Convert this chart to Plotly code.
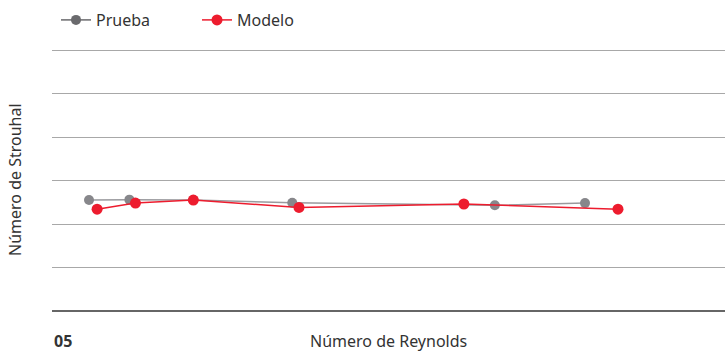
import plotly.graph_objects as go

# Reynolds (relative scale) and Strouhal values
prueba_x = [5.5, 11.5, 21.0, 35.7, 65.8, 79.2]
prueba_y = [0.255, 0.256, 0.255, 0.249, 0.243, 0.248]

modelo_x = [6.7, 12.4, 21.0, 36.7, 61.2, 84.1]
modelo_y = [0.234, 0.248, 0.255, 0.238, 0.246, 0.234]

grid_vals = [0.1, 0.2, 0.3, 0.4, 0.5, 0.6]

GRAY = "#87878b"
GRAY_LEG = "#6a6a6d"
RED = "#ed1c2e"
TXT = "#333333"
FONT = "Noto Sans"

W, H = 725, 352
L, R, T, B = 52, 0, 41, 41
plot_w = W - L - R
plot_h = H - T - B
y_top = 0.6 * plot_h / (311 - 50)  # keep 0.6 gridline at ~y=50px

fig = go.Figure()
fig.add_trace(go.Scatter(
    x=prueba_x, y=prueba_y, name="Prueba", mode="lines+markers", showlegend=False,
    line=dict(color="#9a9a9e", width=1.5),
    marker=dict(color=GRAY, size=10),
))
fig.add_trace(go.Scatter(
    x=modelo_x, y=modelo_y, name="Modelo", mode="lines+markers", showlegend=False,
    line=dict(color=RED, width=1.5),
    marker=dict(color=RED, size=11),
))
# legend entries (legend symbol is darker than the plotted gray)
fig.add_trace(go.Scatter(
    x=[None], y=[None], name="Prueba", mode="lines+markers",
    line=dict(color=GRAY_LEG, width=1.5), marker=dict(color=GRAY_LEG, size=10),
))
fig.add_trace(go.Scatter(
    x=[None], y=[None], name="Modelo", mode="lines+markers",
    line=dict(color=RED, width=1.5), marker=dict(color=RED, size=11),
))

fig.update_layout(
    width=W, height=H,
    margin=dict(l=L, r=R, t=T, b=B),
    paper_bgcolor="white", plot_bgcolor="white",
    font=dict(family=FONT, color=TXT, size=15),
    showlegend=True,
    legend=dict(
        orientation="h", x=4 / plot_w, xanchor="left", y=(311 - 20) / plot_h, yanchor="middle",
        font=dict(size=16, color=TXT), itemwidth=30, entrywidth=96,
        bgcolor="rgba(0,0,0,0)",
    ),
    xaxis=dict(
        range=[0, 100], showgrid=False, zeroline=False, showticklabels=False,
        ticks="", showline=False, automargin=False,
    ),
    yaxis=dict(
        range=[0, y_top], tickvals=grid_vals,
        showgrid=True, gridcolor="#a8a8a8", gridwidth=1,
        zeroline=True, zerolinecolor="#666666", zerolinewidth=1.5,
        showticklabels=False, ticks="", automargin=False,
    ),
    annotations=[
        dict(text="<b>05</b>", x=0, xref="paper", xanchor="left",
             y=(311 - 341) / plot_h, yref="paper", yanchor="middle", showarrow=False,
             font=dict(size=16, color=TXT)),
        dict(text="Número de Reynolds", x=0.5, xref="paper", xanchor="center",
             y=(311 - 341) / plot_h, yref="paper", yanchor="middle", showarrow=False,
             font=dict(size=16, color=TXT)),
        dict(text="Número de Strouhal", x=(15 - L) / plot_w, xref="paper", xanchor="center",
             y=(311 - 180) / plot_h, yref="paper", yanchor="middle", showarrow=False,
             textangle=-90, font=dict(size=16, color=TXT)),
    ],
)

fig.write_html("out.html", config={"displayModeBar": False},
               post_script="document.body.style.margin='0';")
